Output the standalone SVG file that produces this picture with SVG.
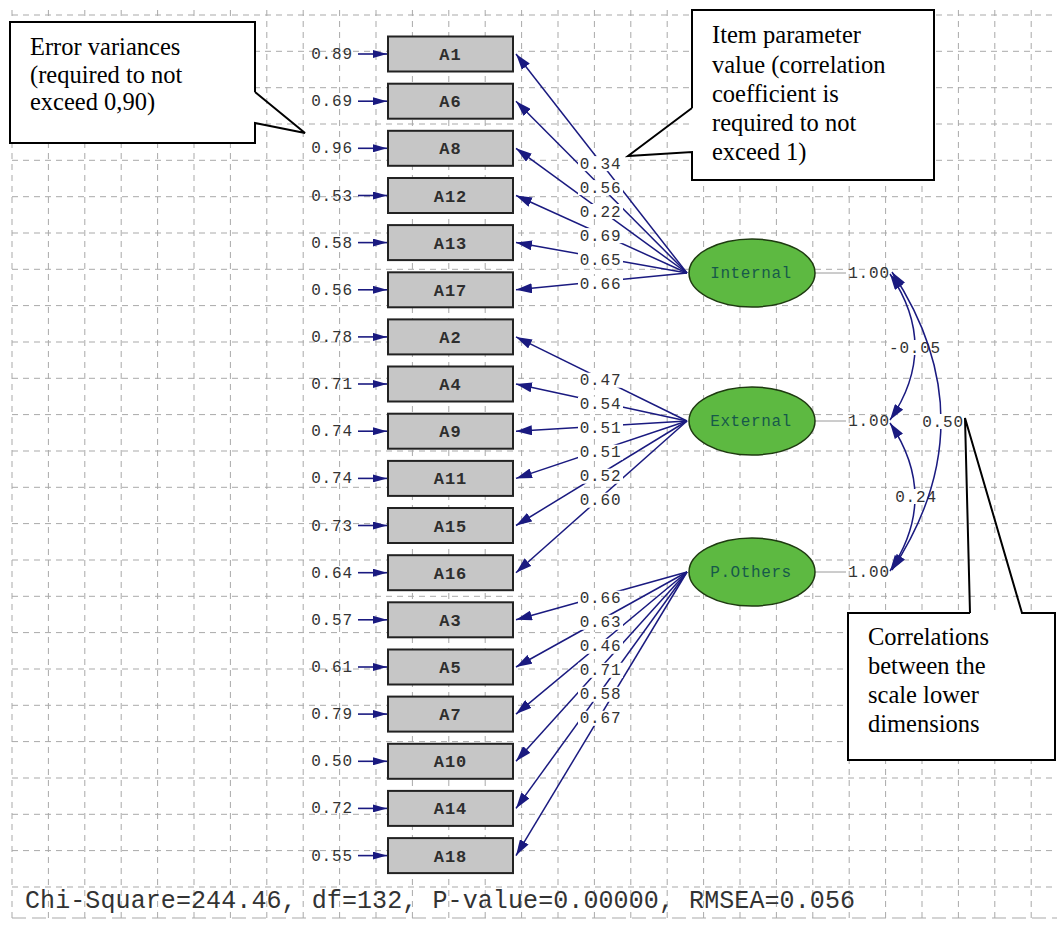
<svg xmlns="http://www.w3.org/2000/svg" width="1057" height="934" viewBox="0 0 1057 934">
<style>
.grid line{stroke:#a9a9a9;stroke-width:1;stroke-dasharray:6 5}
.box{fill:#c6c6c6;stroke:#222;stroke-width:2}
.bl{font-family:"Liberation Mono",monospace;font-size:17px;font-weight:bold;fill:#2e2e2e;text-anchor:middle;letter-spacing:1px}
.num{font-family:"Liberation Mono",monospace;font-size:16px;fill:#333;letter-spacing:0.8px}
.mid{text-anchor:middle}
.ell{fill:#5db941;stroke:#1e3a10;stroke-width:1.5}
.el{font-family:"Liberation Mono",monospace;font-size:16px;fill:#17594a;text-anchor:middle;letter-spacing:0.6px}
.path{stroke:#1a1a80;stroke-width:1.5;fill:none}
.err{stroke:#1a1a80;stroke-width:1.6}
.lbg{fill:#fff}
.vl{stroke:#9a9a9a;stroke-width:1}
.co{fill:none;stroke:#000;stroke-width:2;stroke-linejoin:miter}
.ct{font-family:"Liberation Serif",serif;font-size:24.5px;fill:#000}
</style>
<defs>
<marker id="ah" viewBox="0 0 16 10" refX="16" refY="5" markerWidth="16" markerHeight="10" orient="auto" markerUnits="userSpaceOnUse"><path d="M0,0 L16,5 L0,10 z" fill="#1a1a80"/></marker>
<marker id="ch" viewBox="0 0 16 10" refX="16" refY="5" markerWidth="16" markerHeight="10" orient="auto-start-reverse" markerUnits="userSpaceOnUse"><path d="M0,0 L16,5 L0,10 z" fill="#1a1a80"/></marker>
<marker id="eh" viewBox="0 0 14 8" refX="14" refY="4" markerWidth="14" markerHeight="8" orient="auto" markerUnits="userSpaceOnUse"><path d="M0,0 L14,4 L0,8 z" fill="#1a1a80"/></marker>
</defs>
<rect width="1057" height="934" fill="#fff"/>
<g class="grid">
<line x1="12" y1="10" x2="12" y2="918"/><line x1="48.4" y1="10" x2="48.4" y2="918"/><line x1="84.8" y1="10" x2="84.8" y2="918"/><line x1="121.2" y1="10" x2="121.2" y2="918"/><line x1="157.6" y1="10" x2="157.6" y2="918"/><line x1="194" y1="10" x2="194" y2="918"/><line x1="230.4" y1="10" x2="230.4" y2="918"/><line x1="266.8" y1="10" x2="266.8" y2="918"/><line x1="303.2" y1="10" x2="303.2" y2="918"/><line x1="339.6" y1="10" x2="339.6" y2="918"/><line x1="376" y1="10" x2="376" y2="918"/><line x1="412.4" y1="10" x2="412.4" y2="918"/><line x1="448.8" y1="10" x2="448.8" y2="918"/><line x1="485.2" y1="10" x2="485.2" y2="918"/><line x1="521.6" y1="10" x2="521.6" y2="918"/><line x1="558" y1="10" x2="558" y2="918"/><line x1="594.4" y1="10" x2="594.4" y2="918"/><line x1="630.8" y1="10" x2="630.8" y2="918"/><line x1="667.2" y1="10" x2="667.2" y2="918"/><line x1="703.6" y1="10" x2="703.6" y2="918"/><line x1="740" y1="10" x2="740" y2="918"/><line x1="776.4" y1="10" x2="776.4" y2="918"/><line x1="812.8" y1="10" x2="812.8" y2="918"/><line x1="849.2" y1="10" x2="849.2" y2="918"/><line x1="885.6" y1="10" x2="885.6" y2="918"/><line x1="922" y1="10" x2="922" y2="918"/><line x1="958.4" y1="10" x2="958.4" y2="918"/><line x1="994.8" y1="10" x2="994.8" y2="918"/><line x1="1031.2" y1="10" x2="1031.2" y2="918"/>
<line x1="12" y1="15" x2="1057" y2="15"/><line x1="12" y1="51.3" x2="1057" y2="51.3"/><line x1="12" y1="87.7" x2="1057" y2="87.7"/><line x1="12" y1="124" x2="1057" y2="124"/><line x1="12" y1="160.3" x2="1057" y2="160.3"/><line x1="12" y1="196.7" x2="1057" y2="196.7"/><line x1="12" y1="233" x2="1057" y2="233"/><line x1="12" y1="269.3" x2="1057" y2="269.3"/><line x1="12" y1="305.6" x2="1057" y2="305.6"/><line x1="12" y1="342" x2="1057" y2="342"/><line x1="12" y1="378.3" x2="1057" y2="378.3"/><line x1="12" y1="414.6" x2="1057" y2="414.6"/><line x1="12" y1="451" x2="1057" y2="451"/><line x1="12" y1="487.3" x2="1057" y2="487.3"/><line x1="12" y1="523.6" x2="1057" y2="523.6"/><line x1="12" y1="560" x2="1057" y2="560"/><line x1="12" y1="596.3" x2="1057" y2="596.3"/><line x1="12" y1="632.6" x2="1057" y2="632.6"/><line x1="12" y1="669" x2="1057" y2="669"/><line x1="12" y1="705.3" x2="1057" y2="705.3"/><line x1="12" y1="741.6" x2="1057" y2="741.6"/><line x1="12" y1="778" x2="1057" y2="778"/><line x1="12" y1="814.3" x2="1057" y2="814.3"/><line x1="12" y1="850.6" x2="1057" y2="850.6"/><line x1="12" y1="887" x2="1057" y2="887"/>
<line x1="12" y1="918" x2="1057" y2="918" style="stroke-dasharray:14 6"/>
</g>
<g id="connectors">
<path class="path" d="M687 273 L516 54" marker-end="url(#ah)"/>
<path class="path" d="M687 273 L516 101.2" marker-end="url(#ah)"/>
<path class="path" d="M687 273 L516 148.3" marker-end="url(#ah)"/>
<path class="path" d="M687 273 L516 195.5" marker-end="url(#ah)"/>
<path class="path" d="M687 273 L516 242.6" marker-end="url(#ah)"/>
<path class="path" d="M687 273 L516 289.8" marker-end="url(#ah)"/>
<path class="path" d="M687 421 L516 336.9" marker-end="url(#ah)"/>
<path class="path" d="M687 421 L516 384" marker-end="url(#ah)"/>
<path class="path" d="M687 421 L516 431.2" marker-end="url(#ah)"/>
<path class="path" d="M687 421 L516 478.4" marker-end="url(#ah)"/>
<path class="path" d="M687 421 L516 525.5" marker-end="url(#ah)"/>
<path class="path" d="M687 421 L516 572.7" marker-end="url(#ah)"/>
<path class="path" d="M687 572 L516 619.8" marker-end="url(#ah)"/>
<path class="path" d="M687 572 L516 667" marker-end="url(#ah)"/>
<path class="path" d="M687 572 L516 714.1" marker-end="url(#ah)"/>
<path class="path" d="M687 572 L516 761.3" marker-end="url(#ah)"/>
<path class="path" d="M687 572 L516 808.4" marker-end="url(#ah)"/>
<path class="path" d="M687 572 L516 855.6" marker-end="url(#ah)"/>
<g>
<rect class="lbg" x="578" y="156.1" width="45" height="15"/><text class="num mid" x="600.5" y="168.6">0.34</text>
<rect class="lbg" x="578" y="180.1" width="45" height="15"/><text class="num mid" x="600.5" y="192.6">0.56</text>
<rect class="lbg" x="578" y="204" width="45" height="15"/><text class="num mid" x="600.5" y="216.5">0.22</text>
<rect class="lbg" x="578" y="228.1" width="45" height="15"/><text class="num mid" x="600.5" y="240.6">0.69</text>
<rect class="lbg" x="578" y="252" width="45" height="15"/><text class="num mid" x="600.5" y="264.5">0.65</text>
<rect class="lbg" x="578" y="276" width="45" height="15"/><text class="num mid" x="600.5" y="288.5">0.66</text>
<rect class="lbg" x="578" y="372.7" width="45" height="15"/><text class="num mid" x="600.5" y="385.2">0.47</text>
<rect class="lbg" x="578" y="396.7" width="45" height="15"/><text class="num mid" x="600.5" y="409.2">0.54</text>
<rect class="lbg" x="578" y="420.7" width="45" height="15"/><text class="num mid" x="600.5" y="433.2">0.51</text>
<rect class="lbg" x="578" y="444.7" width="45" height="15"/><text class="num mid" x="600.5" y="457.2">0.51</text>
<rect class="lbg" x="578" y="468.7" width="45" height="15"/><text class="num mid" x="600.5" y="481.2">0.52</text>
<rect class="lbg" x="578" y="492.7" width="45" height="15"/><text class="num mid" x="600.5" y="505.2">0.60</text>
<rect class="lbg" x="578" y="590.8" width="45" height="15"/><text class="num mid" x="600.5" y="603.3">0.66</text>
<rect class="lbg" x="578" y="614.8" width="45" height="15"/><text class="num mid" x="600.5" y="627.3">0.63</text>
<rect class="lbg" x="578" y="638.8" width="45" height="15"/><text class="num mid" x="600.5" y="651.3">0.46</text>
<rect class="lbg" x="578" y="662.8" width="45" height="15"/><text class="num mid" x="600.5" y="675.3">0.71</text>
<rect class="lbg" x="578" y="686.8" width="45" height="15"/><text class="num mid" x="600.5" y="699.3">0.58</text>
<rect class="lbg" x="578" y="710.8" width="45" height="15"/><text class="num mid" x="600.5" y="723.3">0.67</text>
</g>
<line class="err" x1="358" y1="54" x2="387" y2="54" marker-end="url(#eh)"/>
<line class="err" x1="358" y1="101.2" x2="387" y2="101.2" marker-end="url(#eh)"/>
<line class="err" x1="358" y1="148.3" x2="387" y2="148.3" marker-end="url(#eh)"/>
<line class="err" x1="358" y1="195.5" x2="387" y2="195.5" marker-end="url(#eh)"/>
<line class="err" x1="358" y1="242.6" x2="387" y2="242.6" marker-end="url(#eh)"/>
<line class="err" x1="358" y1="289.8" x2="387" y2="289.8" marker-end="url(#eh)"/>
<line class="err" x1="358" y1="336.9" x2="387" y2="336.9" marker-end="url(#eh)"/>
<line class="err" x1="358" y1="384" x2="387" y2="384" marker-end="url(#eh)"/>
<line class="err" x1="358" y1="431.2" x2="387" y2="431.2" marker-end="url(#eh)"/>
<line class="err" x1="358" y1="478.4" x2="387" y2="478.4" marker-end="url(#eh)"/>
<line class="err" x1="358" y1="525.5" x2="387" y2="525.5" marker-end="url(#eh)"/>
<line class="err" x1="358" y1="572.7" x2="387" y2="572.7" marker-end="url(#eh)"/>
<line class="err" x1="358" y1="619.8" x2="387" y2="619.8" marker-end="url(#eh)"/>
<line class="err" x1="358" y1="667" x2="387" y2="667" marker-end="url(#eh)"/>
<line class="err" x1="358" y1="714.1" x2="387" y2="714.1" marker-end="url(#eh)"/>
<line class="err" x1="358" y1="761.3" x2="387" y2="761.3" marker-end="url(#eh)"/>
<line class="err" x1="358" y1="808.4" x2="387" y2="808.4" marker-end="url(#eh)"/>
<line class="err" x1="358" y1="855.6" x2="387" y2="855.6" marker-end="url(#eh)"/>
<line class="vl" x1="815" y1="273" x2="846" y2="273"/>
<line class="vl" x1="815" y1="421" x2="846" y2="421"/>
<line class="vl" x1="815" y1="572" x2="846" y2="572"/>
<path class="path" d="M890 274 Q940 347 890 420" marker-start="url(#ch)" marker-end="url(#ch)"/>
<path class="path" d="M890 423 Q940 497 890 571" marker-start="url(#ch)" marker-end="url(#ch)"/>
<rect class="lbg" x="889" y="340" width="54" height="15"/><text class="num mid" x="915" y="353">-0.05</text>
<rect class="lbg" x="895" y="489" width="42" height="15"/><text class="num mid" x="916" y="502">0.24</text>
<path class="path" d="M892 272 Q990 421 892 570" marker-start="url(#ch)" marker-end="url(#ch)"/>
<rect class="lbg" x="921" y="414" width="44" height="15"/><text class="num mid" x="943" y="427">0.50</text>
<text class="num mid" x="869" y="278">1.00</text>
<text class="num mid" x="869" y="426">1.00</text>
<text class="num mid" x="869" y="577">1.00</text>
</g>
<g id="errors">
<text class="num mid" x="332" y="59">0.89</text>
<text class="num mid" x="332" y="106.2">0.69</text>
<text class="num mid" x="332" y="153.3">0.96</text>
<text class="num mid" x="332" y="200.5">0.53</text>
<text class="num mid" x="332" y="247.6">0.58</text>
<text class="num mid" x="332" y="294.8">0.56</text>
<text class="num mid" x="332" y="341.9">0.78</text>
<text class="num mid" x="332" y="389">0.71</text>
<text class="num mid" x="332" y="436.2">0.74</text>
<text class="num mid" x="332" y="483.4">0.74</text>
<text class="num mid" x="332" y="530.5">0.73</text>
<text class="num mid" x="332" y="577.7">0.64</text>
<text class="num mid" x="332" y="624.8">0.57</text>
<text class="num mid" x="332" y="672">0.61</text>
<text class="num mid" x="332" y="719.1">0.79</text>
<text class="num mid" x="332" y="766.3">0.50</text>
<text class="num mid" x="332" y="813.4">0.72</text>
<text class="num mid" x="332" y="860.6">0.55</text>
</g>
<g id="A1"><rect class="box" x="388" y="36.5" width="125" height="35"/><text class="bl" x="450.5" y="60">A1</text></g>
<g id="A6"><rect class="box" x="388" y="83.7" width="125" height="35"/><text class="bl" x="450.5" y="107.2">A6</text></g>
<g id="A8"><rect class="box" x="388" y="130.8" width="125" height="35"/><text class="bl" x="450.5" y="154.3">A8</text></g>
<g id="A12"><rect class="box" x="388" y="178" width="125" height="35"/><text class="bl" x="450.5" y="201.5">A12</text></g>
<g id="A13"><rect class="box" x="388" y="225.1" width="125" height="35"/><text class="bl" x="450.5" y="248.6">A13</text></g>
<g id="A17"><rect class="box" x="388" y="272.3" width="125" height="35"/><text class="bl" x="450.5" y="295.8">A17</text></g>
<g id="A2"><rect class="box" x="388" y="319.4" width="125" height="35"/><text class="bl" x="450.5" y="342.9">A2</text></g>
<g id="A4"><rect class="box" x="388" y="366.5" width="125" height="35"/><text class="bl" x="450.5" y="390">A4</text></g>
<g id="A9"><rect class="box" x="388" y="413.7" width="125" height="35"/><text class="bl" x="450.5" y="437.2">A9</text></g>
<g id="A11"><rect class="box" x="388" y="460.9" width="125" height="35"/><text class="bl" x="450.5" y="484.4">A11</text></g>
<g id="A15"><rect class="box" x="388" y="508" width="125" height="35"/><text class="bl" x="450.5" y="531.5">A15</text></g>
<g id="A16"><rect class="box" x="388" y="555.2" width="125" height="35"/><text class="bl" x="450.5" y="578.7">A16</text></g>
<g id="A3"><rect class="box" x="388" y="602.3" width="125" height="35"/><text class="bl" x="450.5" y="625.8">A3</text></g>
<g id="A5"><rect class="box" x="388" y="649.5" width="125" height="35"/><text class="bl" x="450.5" y="673">A5</text></g>
<g id="A7"><rect class="box" x="388" y="696.6" width="125" height="35"/><text class="bl" x="450.5" y="720.1">A7</text></g>
<g id="A10"><rect class="box" x="388" y="743.8" width="125" height="35"/><text class="bl" x="450.5" y="767.3">A10</text></g>
<g id="A14"><rect class="box" x="388" y="790.9" width="125" height="35"/><text class="bl" x="450.5" y="814.4">A14</text></g>
<g id="A18"><rect class="box" x="388" y="838.1" width="125" height="35"/><text class="bl" x="450.5" y="861.6">A18</text></g>
<g id="Internal"><ellipse class="ell" cx="752" cy="273" rx="63" ry="34"/><text class="el" x="751" y="278">Internal</text></g>
<g id="External"><ellipse class="ell" cx="752" cy="421" rx="63" ry="34"/><text class="el" x="751" y="426">External</text></g>
<g id="POthers"><ellipse class="ell" cx="752" cy="572" rx="63" ry="34"/><text class="el" x="751" y="577">P.Others</text></g>
<g id="fit"><text x="25" y="908" font-family="Liberation Mono, monospace" font-size="25" fill="#333" textLength="830" lengthAdjust="spacing">Chi-Square=244.46, df=132, P-value=0.00000, RMSEA=0.056</text></g>
<g id="callout-errors">
<rect x="10" y="22" width="245" height="121" fill="#fff"/>
<polyline class="co" points="255,92 255,22 10,22 10,143 255,143 255,123 305,133 255,92"/>
<text class="ct" x="30" y="55">Error variances</text>
<text class="ct" x="30" y="82.5">(required to not</text>
<text class="ct" x="30" y="110">exceed 0,90)</text>
</g>
<g id="callout-items">
<rect x="692" y="10" width="242" height="170" fill="#fff"/>
<polyline class="co" points="692,108 692,10 934,10 934,180 692,180 692,152 628,156 692,108"/>
<text class="ct" x="712" y="43">Item parameter</text>
<text class="ct" x="712" y="72.5">value (correlation</text>
<text class="ct" x="712" y="102">coefficient is</text>
<text class="ct" x="712" y="131">required to not</text>
<text class="ct" x="712" y="160">exceed 1)</text>
</g>
<g id="callout-correlations">
<rect x="848" y="613" width="207" height="147" fill="#fff"/>
<polyline class="co" points="970,613 848,613 848,760 1055,760 1055,613 1022,613 965,418 970,613"/>
<text class="ct" x="868" y="645">Correlations</text>
<text class="ct" x="868" y="674">between the</text>
<text class="ct" x="868" y="703">scale lower</text>
<text class="ct" x="868" y="732">dimensions</text>
</g>
</svg>
